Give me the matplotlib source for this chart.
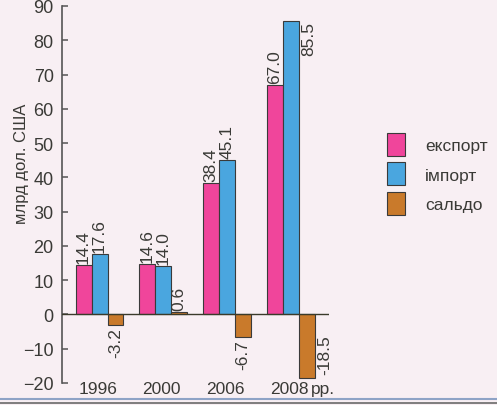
import matplotlib
matplotlib.use("Agg")
import matplotlib.pyplot as plt
from matplotlib.lines import Line2D
import numpy as np

plt.rcParams['font.family'] = ['Liberation Sans', 'DejaVu Sans']

years = ['1996', '2000', '2006', '2008']
export = [14.4, 14.6, 38.4, 67.0]
imports = [17.6, 14.0, 45.1, 85.5]
saldo = [-3.2, 0.6, -6.7, -18.5]
series_names = ['експорт', 'імпорт', 'сальдо']
ylabel = 'млрд дол. США'
yticks = [-20, -10, 0, 10, 20, 30, 40, 50, 60, 70, 80, 90]

bg = '#f8eff3'
txt = '#3a3a36'
c_exp = '#f0459b'
c_imp = '#4aa6df'
c_sal = '#c97a2b'
edge = '#3a3a3a'

fig = plt.figure(figsize=(4.97, 4.06), dpi=100, facecolor=bg)
ax = fig.add_axes([62/497, 1-384/406, (329-62)/497, (384-7)/406])
ax.set_facecolor(bg)

x = np.arange(len(years))
w = 0.251
fs = 12.5

b1 = ax.bar(x - w, export, w, color=c_exp, edgecolor=edge, linewidth=0.8, label=series_names[0])
b2 = ax.bar(x, imports, w, color=c_imp, edgecolor=edge, linewidth=0.8, label=series_names[1])
b3 = ax.bar(x + w, saldo, w, color=c_sal, edgecolor=edge, linewidth=0.8, label=series_names[2])

ax.set_xlim(-0.589, 3.603)
ax.set_ylim(-20, 90)
ax.axhline(0, color='#3a3a2a', linewidth=1.0, zorder=3)

for s in ['top', 'right', 'bottom']:
    ax.spines[s].set_visible(False)
ax.spines['left'].set_color('#555555')
ax.spines['left'].set_linewidth(1.2)
ax.set_yticks(yticks)
ax.tick_params(axis='y', direction='in', length=4, width=1.1, color='#555555',
               labelsize=13, labelcolor=txt, pad=6)
ax.set_xticks([])

ax.set_ylabel(ylabel, fontsize=12, color=txt)
ax.yaxis.set_label_coords(-0.125, 0.585)

def lbl(v):
    return f'{v:.1f}'

top_val = max(imports)
for bars, vals in [(b1, export), (b2, imports), (b3, saldo)]:
    for r, v in zip(bars, vals):
        cx = r.get_x() + r.get_width() / 2
        if v == top_val:
            ax.annotate(lbl(v), xy=(r.get_x() + r.get_width(), v), xytext=(2, 0),
                        textcoords='offset points', rotation=90, ha='left', va='top',
                        fontsize=fs, color=txt)
        elif v >= 0:
            ax.annotate(lbl(v), xy=(cx, v), xytext=(0, 1.5), textcoords='offset points',
                        rotation=90, ha='center', va='bottom', fontsize=fs, color=txt)
        elif v > -10:
            ax.annotate(lbl(v), xy=(cx, v), xytext=(0, -1.5), textcoords='offset points',
                        rotation=90, ha='center', va='top', fontsize=fs, color=txt)
        else:
            ax.annotate(lbl(v), xy=(r.get_x() + r.get_width(), 0), xytext=(2, -14),
                        textcoords='offset points', rotation=90, ha='left', va='top',
                        fontsize=fs, color=txt)

last = None
for xi, y in zip(x, years):
    last = ax.annotate(y, xy=(xi, -20), xytext=(-1, -4), textcoords='offset points',
                       ha='center', va='center', fontsize=fs, color=txt, annotation_clip=False)
ax.annotate('рр.', xy=(1, 0), xycoords=last, xytext=(2, 0), textcoords='offset points',
            ha='left', va='bottom', fontsize=fs, color=txt)

fig.legend(handles=[b1, b2, b3], labels=series_names, loc='upper left',
           bbox_to_anchor=(387/497, 1-134/406), frameon=False, fontsize=fs,
           handlelength=1.05, handleheight=1.65, handletextpad=1.15,
           labelspacing=0.38, borderpad=0, borderaxespad=0, labelcolor=txt)

fig.add_artist(Line2D([0, 1], [1-400/406, 1-400/406], color='#8ea3c6', linewidth=1.5,
                      transform=fig.transFigure))
fig.add_artist(Line2D([0, 1], [1-403.5/406, 1-403.5/406], color='#6a6a6a', linewidth=1.2,
                      transform=fig.transFigure))

fig.savefig('out.png', dpi=100, facecolor=bg)
